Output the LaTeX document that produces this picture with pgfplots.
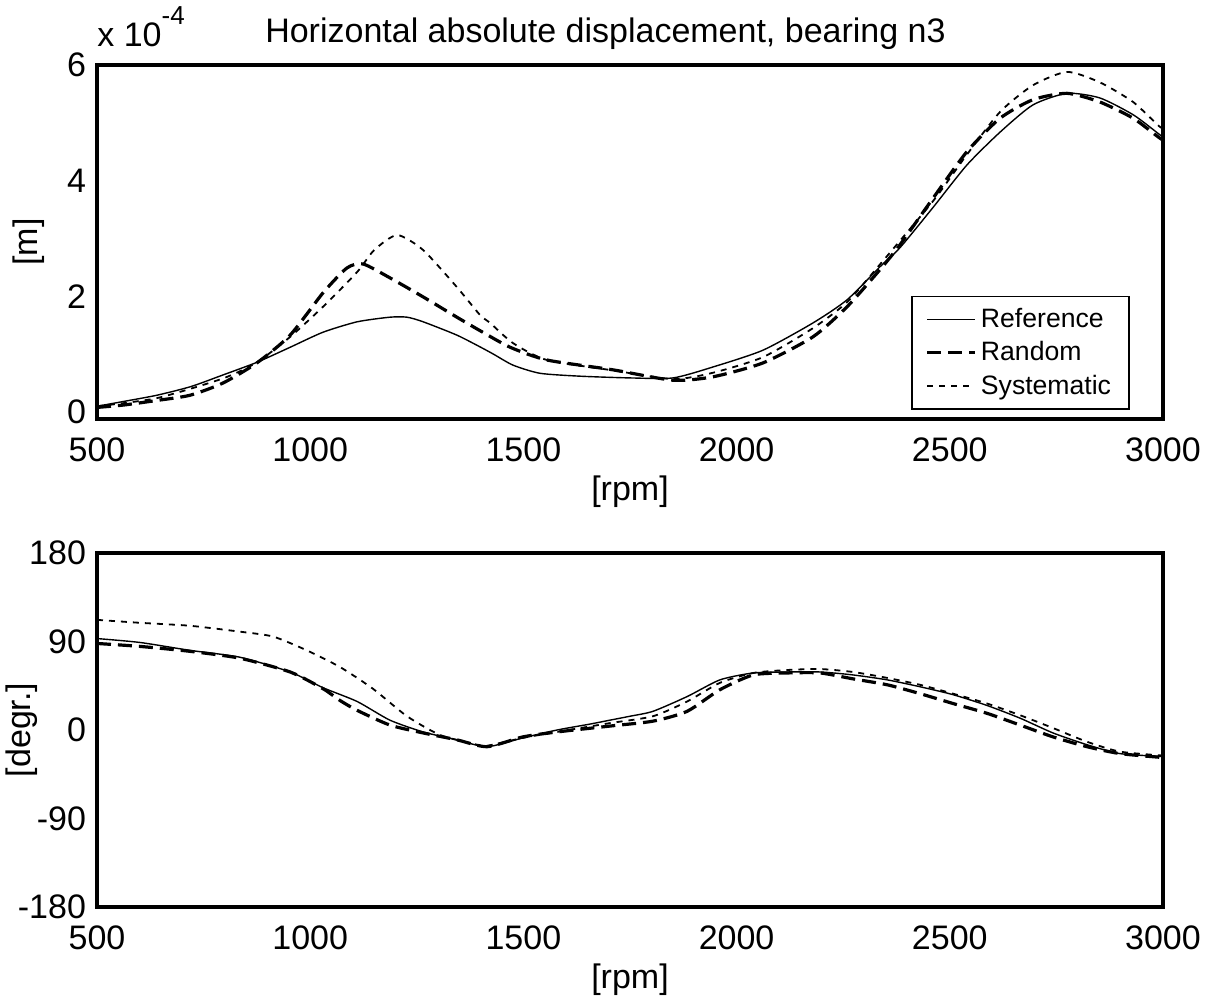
\documentclass[border=0pt]{standalone}
\usepackage{fontspec}
\setmainfont{Liberation Sans}
\usepackage{pgfplots}
\pgfplotsset{compat=1.18}

\pgfplotsset{
  rotor/.style={
    scale only axis, width=533pt, height=177pt,
    xmin=500, xmax=3000, xtick={500,1000,...,3000},
    axis line style={line width=1.8pt},
    major tick length=0pt,
    clip mode=individual,
    font=\fontsize{17}{20}\selectfont,
    /pgf/number format/assume math mode=true,
    /pgf/number format/1000 sep={},
    xticklabel style={yshift=-6pt},
    yticklabel style={xshift=-2pt},
    xlabel={[rpm]},
    xlabel style={yshift=0pt},
  },
  refline/.style={black, line width=0.7pt, smooth, tension=0.4},
  randline/.style={black, line width=1.6pt, dash pattern=on 7pt off 3.5pt, smooth, tension=0.4},
  sysline/.style={black, line width=0.9pt, dash pattern=on 3pt off 3pt, smooth, tension=0.4},
}

\begin{document}
\begin{tikzpicture}
\path[use as bounding box] (-48.5pt,209.5pt) rectangle (565.5pt,-290pt);

% top: amplitude
\begin{axis}[rotor, at={(0,0)}, anchor=south west,
    ymin=-0.12, ymax=6, ytick={0,2,4,6},
    ylabel={[m]},
    ylabel style={at={(axis description cs:-0.064,0.5)}, anchor=center},
    title={Horizontal absolute displacement, bearing n3},
    title style={at={(0.477,1)}, anchor=base, yshift=5pt},
    legend style={at={(0.969,0.025)}, anchor=south east, draw=black,
      line width=0.9pt, font=\fontsize{13.3}{15}\selectfont,
      inner xsep=7pt, inner ysep=4pt, row sep=1.5pt, cells={anchor=west}},
    legend image code/.code={\draw[#1] (0pt,0pt) -- (24pt,0pt);},
  ]
  \addplot[refline] coordinates {
    (500,0.10) (560,0.18) (640,0.29) (720,0.44) (795,0.64) (875,0.86)
    (953,1.12) (1030,1.38) (1110,1.56) (1187,1.64) (1227,1.64) (1265,1.56)
    (1344,1.33) (1400,1.12) (1430,1.00) (1476,0.81) (1539,0.67) (1633,0.62)
    (1750,0.59) (1851,0.59) (1945,0.78) (2062,1.07) (2179,1.54) (2259,1.94)
    (2336,2.51) (2383,2.84) (2461,3.54) (2540,4.27) (2618,4.84) (2695,5.31)
    (2775,5.51) (2852,5.43) (2930,5.14) (2988,4.82) (3000,4.75)
  };
  \addlegendentry{Reference}
  \addplot[randline] coordinates {
    (500,0.08) (561,0.12) (640,0.20) (718,0.29) (795,0.50) (875,0.85)
    (953,1.33) (1030,2.06) (1086,2.49) (1124,2.56) (1187,2.32) (1265,1.99)
    (1344,1.64) (1400,1.40) (1469,1.12) (1555,0.90) (1710,0.73) (1851,0.55)
    (1945,0.61) (2062,0.85) (2179,1.30) (2259,1.82) (2336,2.46) (2383,2.89)
    (2461,3.70) (2540,4.50) (2618,5.08) (2695,5.40) (2775,5.51) (2852,5.36)
    (2930,5.08) (2988,4.76) (3000,4.70)
  };
  \addlegendentry{Random}
  \addplot[sysline] coordinates {
    (500,0.10) (640,0.24) (795,0.58) (875,0.86) (953,1.30) (1030,1.82)
    (1110,2.42) (1150,2.80) (1204,3.06) (1265,2.80) (1344,2.16) (1398,1.68)
    (1422,1.54) (1476,1.19) (1555,0.90) (1710,0.72) (1851,0.57) (1945,0.68)
    (2062,0.95) (2179,1.45) (2259,1.90) (2336,2.55) (2461,3.65) (2540,4.45)
    (2618,5.19) (2695,5.65) (2775,5.88) (2852,5.70) (2930,5.36) (2988,4.96)
    (3000,4.90)
  };
  \addlegendentry{Systematic}
  \node[anchor=base west, inner sep=0pt] at (rel axis cs:0,1) [yshift=9pt]
    {x 10\raisebox{11pt}{\fontsize{13}{13}\selectfont -4}};
\end{axis}

% bottom: phase
\begin{axis}[rotor, at={(0,-244pt)}, anchor=south west,
    ymin=-180, ymax=180, ytick={-180,-90,0,90,180},
    ylabel={[degr.]},
    ylabel style={at={(axis description cs:-0.071,0.5)}, anchor=center},
  ]
  \addplot[refline] coordinates {
    (500,93) (601,89) (718,81) (835,74) (953,59) (1030,43) (1110,29)
    (1187,10) (1265,-2) (1344,-10) (1415,-17) (1499,-8) (1579,0) (1656,6)
    (1703,10) (1750,14) (1804,19) (1884,34) (1961,51) (2039,58) (2118,59)
    (2196,59) (2273,56) (2353,51) (2430,44) (2507,36) (2587,25) (2665,12)
    (2742,-3) (2822,-15) (2899,-24) (3000,-27)
  };
  \addplot[randline] coordinates {
    (500,88) (601,85) (718,80) (835,73) (953,59) (1030,42) (1070,30)
    (1110,20) (1187,5) (1265,-3) (1344,-10) (1415,-17) (1499,-7) (1579,-2)
    (1703,4) (1804,9) (1884,19) (1961,41) (2039,56) (2118,58) (2196,58)
    (2273,52) (2353,46) (2430,37) (2507,27) (2587,17) (2665,5) (2742,-7)
    (2822,-17) (2899,-24) (3000,-28)
  };
  \addplot[sysline] coordinates {
    (500,112) (601,109) (718,106) (835,100) (913,95) (992,81) (1070,64)
    (1147,42) (1227,14) (1304,-5) (1382,-14) (1415,-16) (1499,-8) (1579,-2)
    (1703,7) (1804,14) (1884,29) (1961,48) (2039,58) (2118,61)
    (2196,62) (2273,59) (2353,53) (2430,46) (2507,37) (2587,27) (2665,15)
    (2742,2) (2822,-12) (2899,-22) (3000,-26)
  };
\end{axis}
\end{tikzpicture}
\end{document}
